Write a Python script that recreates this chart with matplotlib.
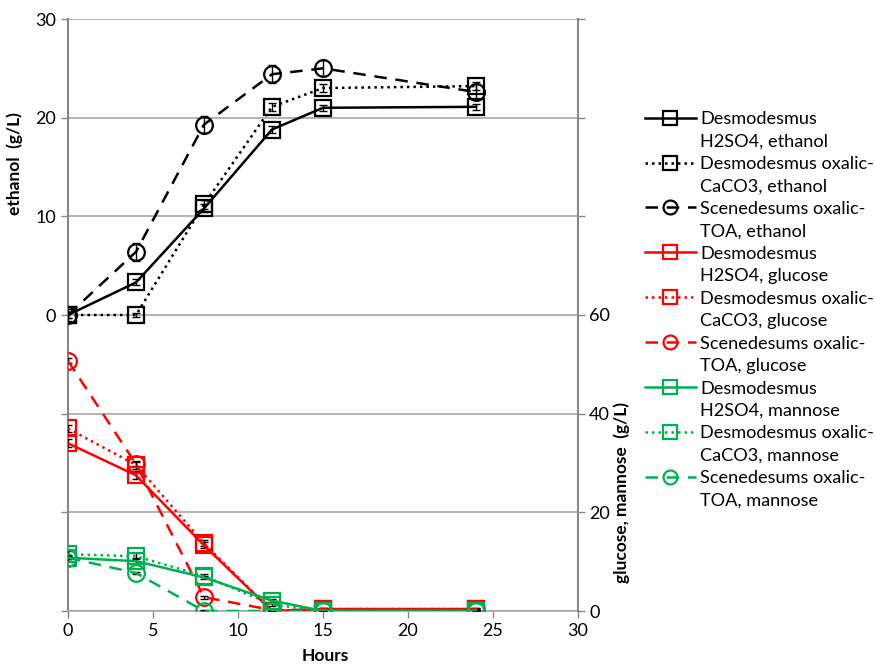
import matplotlib
matplotlib.use('Agg')
import matplotlib.pyplot as plt
from matplotlib.lines import Line2D
from matplotlib.ticker import FuncFormatter

plt.rcParams['font.family'] = ['Lato', 'DejaVu Sans']

hours = [0, 4, 8, 12, 15, 24]

# ethanol (g/L), left axis
eth_h2so4 = [0, 3.3, 10.8, 18.8, 21.0, 21.1]
eth_h2so4_err = [0.3, 0.3, 0.4, 0.4, 0.3, 0.3]
eth_cac = [0, 0, 11.2, 21.1, 23.0, 23.2]
eth_cac_err = [0.3, 0.2, 0.5, 0.4, 0.4, 0.4]
eth_toa = [0, 6.4, 19.3, 24.4, 25.0, 22.6]
eth_toa_err = [0.6, 0.9, 0.9, 0.9, 0.8, 0.8]

# glucose (g/L), right axis
glu_h2so4 = [34.0, 27.5, 13.3, 0.0, 0.4, 0.4]
glu_h2so4_err = [0.8, 0.8, 0.6, 0.2, 0.2, 0.2]
glu_cac = [37.0, 29.6, 13.7, 0.0, 0.4, 0.4]
glu_cac_err = [0.8, 0.8, 0.6, 0.2, 0.2, 0.2]
glu_toa = [50.7, 29.8, 2.8, 0.2, 0.2, 0.2]
glu_toa_err = [0.5, 0.5, 0.3, 0.2, 0.2, 0.2]

# mannose (g/L), right axis
man_h2so4 = [10.8, 10.1, 6.8, 2.1, 0.0, 0.0]
man_h2so4_err = [0.6, 0.6, 0.3, 0.3, 0.2, 0.2]
man_cac = [11.5, 11.1, 7.1, 1.3, 0.0, 0.0]
man_cac_err = [0.6, 0.6, 0.3, 0.3, 0.2, 0.2]
man_toa = [10.8, 7.7, 0.0, 0.0, 0.0, 0.0]
man_toa_err = [0.3, 0.3, 0.2, 0.2, 0.2, 0.2]

labels = [
    ('Desmodesmus', 'H2SO4, ethanol'),
    ('Desmodesmus oxalic-', 'CaCO3, ethanol'),
    ('Scenedesums oxalic-', 'TOA, ethanol'),
    ('Desmodesmus', 'H2SO4, glucose'),
    ('Desmodesmus oxalic-', 'CaCO3, glucose'),
    ('Scenedesums oxalic-', 'TOA, glucose'),
    ('Desmodesmus', 'H2SO4, mannose'),
    ('Desmodesmus oxalic-', 'CaCO3, mannose'),
    ('Scenedesums oxalic-', 'TOA, mannose'),
]

BLACK = '#000000'
RED = '#ff0000'
GREEN = '#00b050'
GRID = '#a6a6a6'
SPINE = '#868686'

solid = '-'
dotted = (0, (1, 1.6))
dashed = (0, (5, 3.5))

fig = plt.figure(figsize=(8.75, 6.64), dpi=100)
ax = fig.add_axes([68/875, 1 - 611/664, 510/875, 592/664])
ax2 = ax.twinx()

def draw(axis, y, err, color, ls, marker):
    axis.errorbar(hours, y, yerr=err, ecolor='black', elinewidth=1, capsize=3,
                  capthick=1, fmt='none', zorder=3)
    line, = axis.plot(hours, y, color=color, linestyle=ls, linewidth=1.8,
                      marker=marker, markersize=12, markerfacecolor='none',
                      markeredgecolor=color, markeredgewidth=1.6, zorder=4)
    return line

handles = []
handles.append(draw(ax, eth_h2so4, eth_h2so4_err, BLACK, solid, 's'))
handles.append(draw(ax, eth_cac, eth_cac_err, BLACK, dotted, 's'))
handles.append(draw(ax, eth_toa, eth_toa_err, BLACK, dashed, 'o'))
handles.append(draw(ax2, glu_h2so4, glu_h2so4_err, RED, solid, 's'))
handles.append(draw(ax2, glu_cac, glu_cac_err, RED, dotted, 's'))
handles.append(draw(ax2, glu_toa, glu_toa_err, RED, dashed, 'o'))
handles.append(draw(ax2, man_h2so4, man_h2so4_err, GREEN, solid, 's'))
handles.append(draw(ax2, man_cac, man_cac_err, GREEN, dotted, 's'))
handles.append(draw(ax2, man_toa, man_toa_err, GREEN, dashed, 'o'))

ax.set_xlim(0, 30)
ax.set_xticks(range(0, 31, 5))
ax.set_ylim(-30, 30)
ax.set_yticks(range(-30, 31, 10))
ax.yaxis.set_major_formatter(FuncFormatter(lambda v, p: f'{v:g}' if v >= 0 else ''))
ax2.set_ylim(0, 120)
ax2.set_yticks(range(0, 121, 20))
ax2.yaxis.set_major_formatter(FuncFormatter(lambda v, p: f'{v:g}' if v <= 60 else ''))

ax.grid(axis='y', color=GRID, linewidth=1.2)
ax.set_axisbelow(True)
for a in (ax, ax2):
    for s in a.spines.values():
        s.set_visible(False)
ax.spines['left'].set_visible(True)
ax.spines['left'].set_color(SPINE)
ax.spines['left'].set_linewidth(1.5)
ax2.spines['right'].set_visible(True)
ax2.spines['right'].set_color(SPINE)
ax2.spines['right'].set_linewidth(1.5)
ax.spines['bottom'].set_visible(True)
ax.spines['bottom'].set_color(GRID)
ax.spines['bottom'].set_linewidth(1.2)

ax.tick_params(axis='both', colors=SPINE, labelcolor='black', labelsize=13,
               length=5, width=1)
ax2.tick_params(axis='y', colors=SPINE, labelcolor='black', labelsize=13,
                length=5, width=1, pad=3)

ax.set_ylabel('ethanol  (g/L)', fontsize=12.5, fontweight='bold')
ax.yaxis.set_label_coords(-0.088, 0.755)
ax2.set_ylabel('glucose, mannose  (g/L)', fontsize=12.5, fontweight='bold')
ax2.yaxis.set_label_coords(1.07, 0.2)
ax.set_xlabel('Hours', fontsize=12.5, fontweight='bold')
ax.xaxis.set_label_coords(0.504, -0.063)

blank = Line2D([], [], linestyle='none')
leg_handles, leg_labels = [], []
for h, (l1, l2) in zip(handles, labels):
    leg_handles += [h, blank]
    leg_labels += [l1, l2]

leg = fig.legend(leg_handles, leg_labels, loc='upper left',
                 bbox_to_anchor=(645/875, 1 - 111/664), frameon=False,
                 fontsize=13.1, handlelength=2.8, handletextpad=0.25,
                 labelspacing=0.355, borderaxespad=0, borderpad=0)
for h in leg.legend_handles:
    h.set_markersize(10)

fig.savefig('out.png', dpi=100)
